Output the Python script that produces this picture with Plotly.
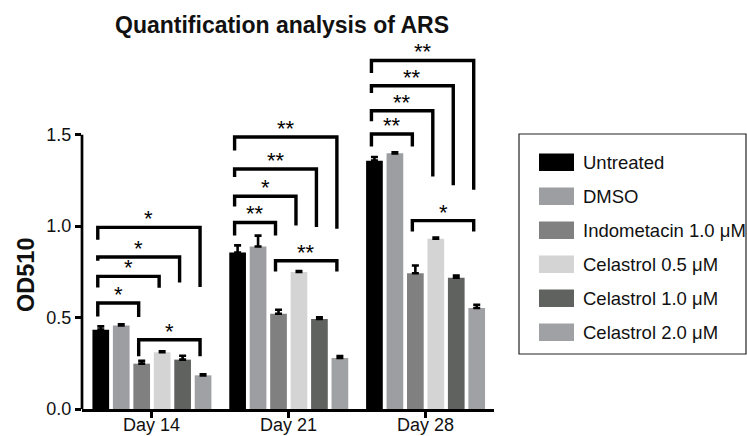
import plotly.graph_objects as go

# ---------------- data ----------------
days = ["Day 14", "Day 21", "Day 28"]
groups = ["Untreated", "DMSO", "Indometacin 1.0 μM", "Celastrol 0.5 μM",
          "Celastrol 1.0 μM", "Celastrol 2.0 μM"]
colors = ["#000000", "#9d9ea2", "#808080", "#d4d4d4", "#606260", "#a0a1a5"]

untreated = [0.434, 0.856, 1.358]
dmso = [0.457, 0.889, 1.398]
indometacin = [0.248, 0.521, 0.742]
celastrol_05 = [0.310, 0.749, 0.931]
celastrol_10 = [0.270, 0.492, 0.718]
celastrol_20 = [0.184, 0.279, 0.552]

err_untreated = [0.018, 0.039, 0.020]
err_dmso = [0.006, 0.059, 0.006]
err_indometacin = [0.016, 0.022, 0.043]
err_celastrol_05 = [0.006, 0.006, 0.006]
err_celastrol_10 = [0.021, 0.010, 0.012]
err_celastrol_20 = [0.006, 0.010, 0.018]

series = [untreated, dmso, indometacin, celastrol_05, celastrol_10, celastrol_20]
errors = [err_untreated, err_dmso, err_indometacin, err_celastrol_05,
          err_celastrol_10, err_celastrol_20]

y_ticks = [0, 0.5, 1.0, 1.5]
y_ticktext = ["0.0", "0.5", "1.0", "1.5"]

# significance brackets: (day index, bar a, bar b, top, left-leg bottom, right-leg bottom, label)
brackets = [
    (0, 0, 2, 0.580, 0.506, 0.503, "*"),
    (0, 0, 3, 0.725, 0.665, 0.663, "*"),
    (0, 0, 4, 0.831, 0.811, 0.692, "*"),
    (0, 0, 5, 0.993, 0.926, 0.667, "*"),
    (0, 2, 5, 0.379, 0.288, 0.288, "*"),
    (1, 0, 2, 1.020, 0.949, 0.949, "**"),
    (1, 0, 3, 1.163, 1.108, 1.004, "*"),
    (1, 0, 4, 1.312, 1.269, 0.995, "**"),
    (1, 0, 5, 1.487, 1.414, 0.986, "**"),
    (1, 2, 5, 0.811, 0.752, 0.752, "**"),
    (2, 0, 2, 1.504, 1.436, 1.436, "**"),
    (2, 0, 3, 1.631, 1.573, 1.272, "**"),
    (2, 0, 4, 1.768, 1.728, 1.223, "**"),
    (2, 0, 5, 1.906, 1.837, 1.199, "**"),
    (2, 2, 5, 1.030, 0.971, 0.971, "*"),
]

# ---------------- layout constants ----------------
W, H = 747, 436
L, R, T, B = 82, 253, 40, 27
PPU = 182.87  # pixels per y unit
BARGAP = 0.103
BARGROUPGAP = 0.184
n = len(groups)
pitch = (1 - BARGAP) / n
SHIFT = -0.022
FONT = "Liberation Sans, Arial, Helvetica, sans-serif"
TXT = "#111111"

pw = W - L - R
ph = H - T - B
ymax = ph / PPU


def px_x(x):
    return (x - L) / pw


def px_y(y):
    return (H - B - y) / ph


fig = go.Figure()
x_idx = list(range(len(days)))
for name, vals, errs, col in zip(groups, series, errors, colors):
    fig.add_trace(go.Bar(
        x=x_idx, y=vals, name=name,
        marker=dict(color=col, line=dict(width=0)),
        error_y=dict(type="data", array=errs, arrayminus=[0] * len(errs),
                     symmetric=False, color="#000000", thickness=2.6, width=3.5),
        showlegend=False,
    ))


def bar_center(day, i):
    return day + (i - (n - 1) / 2) * pitch + SHIFT


for day, a, b, top, lb, rb, lab in brackets:
    xa = bar_center(day, a)
    xb = bar_center(day, b)
    fig.add_trace(go.Scatter(
        x=[xa, xa, xb, xb], y=[lb, top, top, rb], mode="lines",
        line=dict(color="#000000", width=3.4), cliponaxis=False,
        showlegend=False, hoverinfo="skip",
    ))
    fig.add_annotation(x=(xa + xb) / 2, y=top, text=lab, showarrow=False,
                       xref="x", yref="y", yanchor="middle", yshift=8.5,
                       font=dict(family=FONT, size=22, color="#000000"))

# x tick labels, sitting at the bottom edge of the picture
for xi, d in zip(x_idx, days):
    fig.add_annotation(x=xi, y=px_y(H - 0.5), xref="x", yref="paper", text=d,
                       showarrow=False, xanchor="center", yanchor="bottom",
                       borderpad=0,
                       font=dict(family=FONT, size=18, color=TXT))

# y axis line only up to the last tick
fig.add_shape(type="line", xref="paper", yref="y", x0=0, x1=0,
              y0=-0.008, y1=max(y_ticks),
              line=dict(color="#000000", width=2.7))

# custom legend
box_l, box_t, box_r, box_b = 519, 134, 746, 354
fig.add_shape(type="rect", xref="paper", yref="paper",
              x0=px_x(box_l), x1=px_x(box_r), y0=px_y(box_b), y1=px_y(box_t),
              line=dict(color="#222222", width=1.2), fillcolor="rgba(0,0,0,0)")
for k, (name, col) in enumerate(zip(groups, colors)):
    cy = 162.3 + 34 * k
    fig.add_shape(type="rect", xref="paper", yref="paper",
                  x0=px_x(539), x1=px_x(574), y0=px_y(cy + 8.7), y1=px_y(cy - 8.7),
                  line=dict(width=0), fillcolor=col)
    fig.add_annotation(x=px_x(581), y=px_y(cy), xref="paper", yref="paper",
                       text=name, showarrow=False, xanchor="left", yanchor="middle",
                       font=dict(family=FONT, size=18.5, color=TXT))

# y-axis title
fig.add_annotation(x=px_x(26), y=px_y(275), xref="paper", yref="paper",
                   text="<b>OD510</b>", showarrow=False, textangle=-90,
                   xanchor="center", yanchor="middle",
                   font=dict(family=FONT, size=23.5, color=TXT))

fig.update_layout(
    width=W, height=H,
    margin=dict(l=L, r=R, t=T, b=B, pad=0),
    paper_bgcolor="white", plot_bgcolor="white",
    barmode="group", bargap=BARGAP, bargroupgap=BARGROUPGAP,
    title=dict(text="<b>Quantification analysis of ARS</b>", x=282 / W, xanchor="center",
               xref="container", y=1 - 25 / H, yanchor="middle", yref="container",
               font=dict(family=FONT, size=23, color=TXT)),
    font=dict(family=FONT, size=18, color=TXT),
    xaxis=dict(range=[-0.511, 2.5], tickvals=x_idx, showticklabels=False,
               showline=True, linecolor="#000000", linewidth=2.7,
               ticks="outside", ticklen=6, tickwidth=2.7, tickcolor="#000000",
               showgrid=False, zeroline=False, automargin=False),
    yaxis=dict(range=[0, ymax], tickvals=y_ticks, ticktext=y_ticktext,
               showline=False,
               ticks="outside", ticklen=6, tickwidth=2.7, tickcolor="#000000",
               showgrid=False, zeroline=False, automargin=False,
               tickfont=dict(family=FONT, size=18, color=TXT)),
)

fig.write_html("out.html")
